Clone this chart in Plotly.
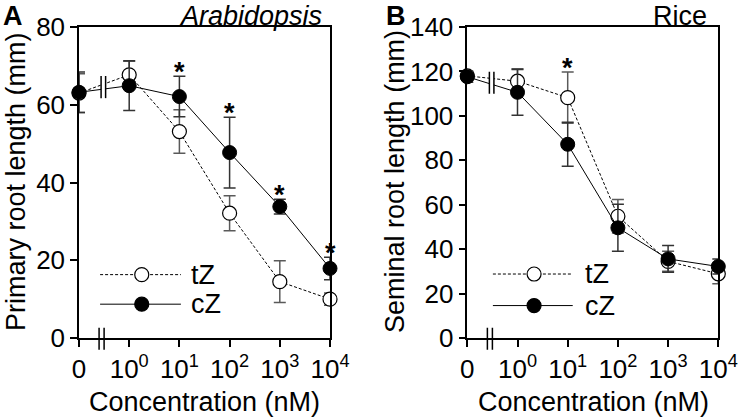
import math
import plotly.graph_objects as go

# ---------------- data ----------------
concentrations = [0, 1, 10, 100, 1000, 10000]
tick_labels = ["0", "10<sup>0</sup>", "10<sup>1</sup>", "10<sup>2</sup>", "10<sup>3</sup>", "10<sup>4</sup>"]

arab_tZ_mean = [63.0, 67.7, 53.1, 32.1, 14.5, 10.0]
arab_tZ_err = [5.0, 3.5, 5.6, 4.5, 5.4, 1.6]
arab_cZ_mean = [63.2, 64.9, 62.1, 47.7, 33.8, 17.9]
arab_cZ_err = [5.2, 6.4, 5.2, 9.1, 1.9, 2.9]
arab_star_conc = [10, 100, 1000, 10000]

rice_tZ_mean = [118.0, 115.6, 108.2, 54.8, 34.5, 28.9]
rice_tZ_err = [2.0, 5.6, 11.5, 7.5, 4.5, 4.5]
rice_cZ_mean = [117.6, 110.6, 87.2, 49.6, 35.6, 32.2]
rice_cZ_err = [2.5, 10.3, 9.9, 10.6, 6.0, 3.4]
rice_star_conc = [10]

# ---------------- helpers ----------------
FONT = "Liberation Sans, Arial, Helvetica, sans-serif"
FS_TICK = 26
FS = 27
DASH = "3px,2px"


def xpos(c):
    return math.log10(c) if c > 0 else -1


xs = [xpos(c) for c in concentrations]

fig = go.Figure()


def add_panel(xref, yref, tZ_m, tZ_e, cZ_m, cZ_e, stars, leg_y, leg_x):
    # tZ (open, dashed)
    fig.add_trace(go.Scatter(
        x=xs, y=tZ_m, mode="lines+markers", xaxis=xref, yaxis=yref,
        line=dict(color="black", width=1, dash=DASH),
        marker=dict(size=14, color="white", line=dict(color="black", width=1.2)),
        error_y=dict(type="data", array=tZ_e, color="#5a5a5a", thickness=1.5, width=6),
        cliponaxis=False, showlegend=False))
    # cZ (filled, solid)
    fig.add_trace(go.Scatter(
        x=xs, y=cZ_m, mode="lines+markers", xaxis=xref, yaxis=yref,
        line=dict(color="black", width=1),
        marker=dict(size=14, color="black", line=dict(color="black", width=1)),
        error_y=dict(type="data", array=cZ_e, color="#333333", thickness=1.5, width=6),
        cliponaxis=False, showlegend=False))
    # significance stars
    for c in stars:
        i = concentrations.index(c)
        top = max(tZ_m[i] + tZ_e[i], cZ_m[i] + cZ_e[i])
        fig.add_annotation(x=xs[i], y=top, xref=xref, yref=yref, text="<b>*</b>",
                           showarrow=False, yanchor="bottom", yshift=-13,
                           font=dict(family=FONT, size=27, color="black"))
    # legend (manual, line with centred marker)
    for name, yy, mk, dash in [("tZ", leg_y[0], "white", DASH), ("cZ", leg_y[1], "black", "solid")]:
        fig.add_trace(go.Scatter(
            x=[leg_x[0], leg_x[2]], y=[yy, yy], mode="lines", xaxis=xref, yaxis=yref,
            line=dict(color="black", width=1, dash=dash), showlegend=False, hoverinfo="skip"))
        fig.add_trace(go.Scatter(
            x=[leg_x[1]], y=[yy], mode="markers", xaxis=xref, yaxis=yref,
            marker=dict(size=14, color=mk, line=dict(color="black", width=1.2)),
            showlegend=False, hoverinfo="skip"))
        fig.add_annotation(x=leg_x[3], y=yy, xref=xref, yref=yref, text=name, showarrow=False,
                           xanchor="left", yanchor="middle",
                           font=dict(family=FONT, size=FS, color="black"))


add_panel("x", "y", arab_tZ_mean, arab_tZ_err, arab_cZ_mean, arab_cZ_err,
          arab_star_conc, (16.3, 8.7), (-0.58, 0.25, 1.03, 1.19))
add_panel("x2", "y2", rice_tZ_mean, rice_tZ_err, rice_cZ_mean, rice_cZ_err,
          rice_star_conc, (28.8, 14.6), (-0.49, 0.33, 1.10, 1.30))


# axis-break marks
def add_breaks(xref, yref, y0, y1):
    fig.add_shape(type="rect", xref=xref, yref=yref, x0=-0.56, x1=-0.47, y0=y0, y1=y1,
                  fillcolor="white", line=dict(width=0), layer="above")
    for bx in (-0.56, -0.47):
        fig.add_shape(type="line", xref=xref, yref=yref, x0=bx, x1=bx, y0=y0, y1=y1,
                      line=dict(color="black", width=1.5), layer="above")
    for bx in (-0.6, -0.5):
        fig.add_shape(type="line", xref=xref, yref=yref + " domain", x0=bx, x1=bx,
                      y0=-0.038, y1=0.033, line=dict(color="black", width=1.5), layer="above")


add_breaks("x", "y", 61.7, 67.4)
add_breaks("x2", "y2", 109.9, 119.9)

axis_common = dict(showline=True, linecolor="black", linewidth=1.5, mirror=True,
                   ticks="outside", ticklen=7, tickwidth=1.5, tickcolor="black",
                   showgrid=False, zeroline=False, automargin=False,
                   tickfont=dict(family=FONT, size=FS_TICK, color="black"))

fig.update_layout(
    width=738, height=418,
    margin=dict(l=0, r=0, t=0, b=0, pad=0, autoexpand=False),
    paper_bgcolor="white", plot_bgcolor="white",
    xaxis=dict(domain=[79 / 738, 330 / 738], range=[-1, 4], tickvals=xs, ticktext=tick_labels,
               anchor="y", **axis_common),
    yaxis=dict(domain=[80 / 418, 391 / 418], range=[0, 80], dtick=20, anchor="x", **axis_common),
    xaxis2=dict(domain=[467.3 / 738, 718.3 / 738], range=[-1, 4], tickvals=xs, ticktext=tick_labels,
                anchor="y2", **axis_common),
    yaxis2=dict(domain=[80 / 418, 391 / 418], range=[0, 140], dtick=20, anchor="x2", **axis_common),
)

# panel labels and headers (top row)
for t in [
    dict(x=2 / 738, text="<b>A</b>", xanchor="left"),
    dict(x=323 / 738, text="<i>Arabidopsis</i>", xanchor="right"),
    dict(x=385 / 738, text="<b>B</b>", xanchor="left"),
    dict(x=708 / 738, text="Rice", xanchor="right"),
]:
    fig.add_annotation(xref="paper", yref="paper", y=1, yanchor="top", showarrow=False, borderpad=0,
                       font=dict(family=FONT, size=FS, color="black"), **t)
# axis titles
for xx in (204 / 738, 593 / 738):
    fig.add_annotation(xref="paper", yref="paper", x=xx, y=1 - 402 / 418, text="Concentration (nM)",
                       showarrow=False, xanchor="center", yanchor="middle",
                       font=dict(family=FONT, size=FS, color="black"))
for xx, tt in [(0, "Primary root length (mm)"), (395 / 738, "Seminal root length (mm)")]:
    fig.add_annotation(xref="paper", yref="paper", x=xx, y=1 - 182 / 418, text=tt, textangle=-90,
                       showarrow=False, xanchor="left" if xx == 0 else "center", yanchor="middle",
                       borderpad=0, font=dict(family=FONT, size=FS, color="black"))

fig.write_html("out.html", config={"displayModeBar": False},
               post_script="document.body.style.margin='0';document.body.style.overflow='hidden';")
